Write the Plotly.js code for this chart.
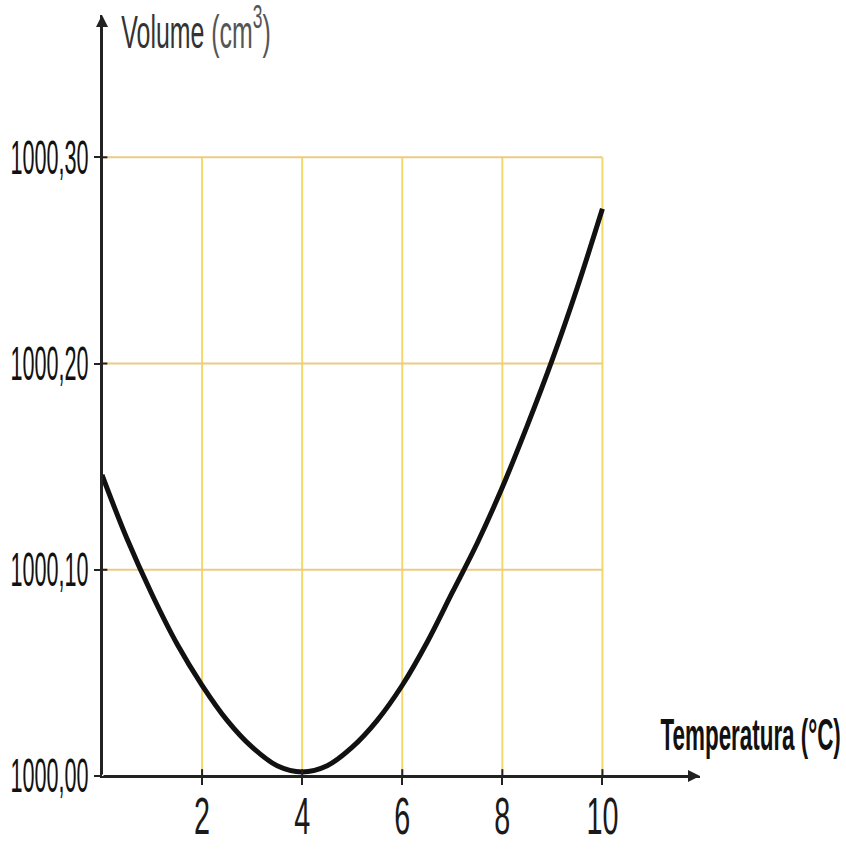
<!DOCTYPE html>
<html>
<head>
<meta charset="utf-8">
<script src="https://cdn.plot.ly/plotly-3.0.1.min.js"></script>
<style>html,body{margin:0;padding:0;background:#fff}#chart{width:846px;height:851px}</style>
</head>
<body>
<div id="chart"></div>
<script>
// Data
const temperature = [0, 0.5, 1, 1.5, 2, 2.5, 3, 3.5, 4, 4.5, 5, 5.5, 6, 6.5, 7, 7.5, 8, 8.5, 9, 9.5, 10];
const volume = [1000.146, 1000.115, 1000.088, 1000.064, 1000.044, 1000.027, 1000.014, 1000.005, 1000.002, 1000.005, 1000.014, 1000.027, 1000.044, 1000.065, 1000.089, 1000.113, 1000.140, 1000.170, 1000.202, 1000.237, 1000.275];
const xTicks = [2, 4, 6, 8, 10];
const xTickText = ['2', '4', '6', '8', '10'];
const yTicks = [1000.00, 1000.10, 1000.20, 1000.30];
const yTickText = ['1000,00', '1000,10', '1000,20', '1000,30'];
const xTitle = 'Temperatura (°C)';
const yTitle = 'Volume (cm<sup>3</sup>)';

const xMax = 11.95, yMin = 1000.0, yMax = 1000.369;
const font = '"Liberation Sans", Arial, sans-serif';

const shapes = [];
xTicks.forEach(v => shapes.push({type:'line', xref:'x', yref:'y', x0:v, x1:v, y0:yMin, y1:yTicks[yTicks.length-1], line:{color:'#f3d86a', width:2}, layer:'below'}));
yTicks.slice(1).forEach(v => shapes.push({type:'line', xref:'x', yref:'y', x0:0, x1:xTicks[xTicks.length-1], y0:v, y1:v, line:{color:'#eccb84', width:2}, layer:'below'}));
// tick marks crossing the axes (above/right side)
xTicks.forEach(v => shapes.push({type:'line', xref:'x', yref:'paper', x0:v, x1:v, y0:0, y1:0.009, line:{color:'#222', width:2}}));
yTicks.slice(1).forEach(v => shapes.push({type:'line', xref:'paper', yref:'y', x0:0, x1:0.009, y0:v, y1:v, line:{color:'#222', width:2}}));

const trace = {x: temperature, y: volume, type:'scatter', mode:'lines', line:{color:'#111', width:5, shape:'spline'}, cliponaxis:false, hoverinfo:'skip'};

const layout = {
  width: 846, height: 851,
  margin: {l:102, r:146, t:15, b:75},
  paper_bgcolor:'#fff', plot_bgcolor:'#fff',
  showlegend:false,
  xaxis: {range:[0, xMax], showgrid:false, zeroline:false, showline:true, linecolor:'#222', linewidth:2,
          tickvals:xTicks, ticktext:xTickText, ticks:'outside', ticklen:7, tickwidth:2, tickcolor:'#222',
          tickfont:{family:font, size:32, color:'#1a1a1a'}, ticklabelstandoff:0},
  yaxis: {range:[yMin, yMax], showgrid:false, zeroline:false, showline:true, linecolor:'#222', linewidth:2,
          tickvals:yTicks, ticktext:yTickText, ticks:'outside', ticklen:6, tickwidth:2, tickcolor:'#222',
          tickfont:{family:font, size:27, color:'#111'}, ticklabelstandoff:0},
  shapes: shapes,
  annotations: [
    {xref:'x', yref:'y', x:xMax, y:yMin, ax:0, ay:yMin, axref:'x', ayref:'y', showarrow:true, arrowhead:2, arrowsize:1.2, arrowwidth:2, arrowcolor:'#222', text:''},
    {xref:'x', yref:'y', x:0, y:yMax, ax:0, ay:yMin, axref:'x', ayref:'y', showarrow:true, arrowhead:2, arrowsize:1.2, arrowwidth:2, arrowcolor:'#222', text:''},
    {xref:'paper', yref:'paper', x:0.157, y:0.983, xanchor:'center', yanchor:'middle', showarrow:false,
     text:'<span style="color:#333">Volume</span> <span style="color:#555">(cm<sup>3</sup>)</span>', font:{family:font, size:30, color:'#3a3a3a'}},
    {xref:'paper', yref:'paper', x:1.085, y:0.055, xanchor:'center', yanchor:'middle', showarrow:false,
     text:'<b>' + xTitle + '</b>', font:{family:font, size:28, color:'#111'}}
  ]
};

// stretch text the way the condensed, tall lettering of the reference looks
function stretch(el, sx, sy, ax, ay) {
  const b = el.getBBox();
  if (!b.width) return;
  const cx = b.x + b.width * ax, cy = b.y + b.height * ay;
  const t = el.getAttribute('transform') || '';
  el.setAttribute('transform', t + ` translate(${cx},${cy}) scale(${sx},${sy}) translate(${-cx},${-cy})`);
}

Plotly.newPlot('chart', [trace], layout, {staticPlot:true, displayModeBar:false}).then(gd => {
  gd.querySelectorAll('.ytick text').forEach(el => stretch(el, 0.8, 1.75, 1, 0.5));
  gd.querySelectorAll('.xtick text').forEach(el => stretch(el, 0.9, 1.6, 0.5, 0.3));
  gd.querySelectorAll('.annotation-text').forEach(el => {
    const s = el.textContent;
    if (s.indexOf('Volume') === 0) stretch(el, 0.83, 1.55, 0.5, 0.5);
    else if (s.indexOf('Temperatura') === 0) stretch(el, 0.8, 1.6, 0.5, 0.5);
  });
});
</script>
</body>
</html>
